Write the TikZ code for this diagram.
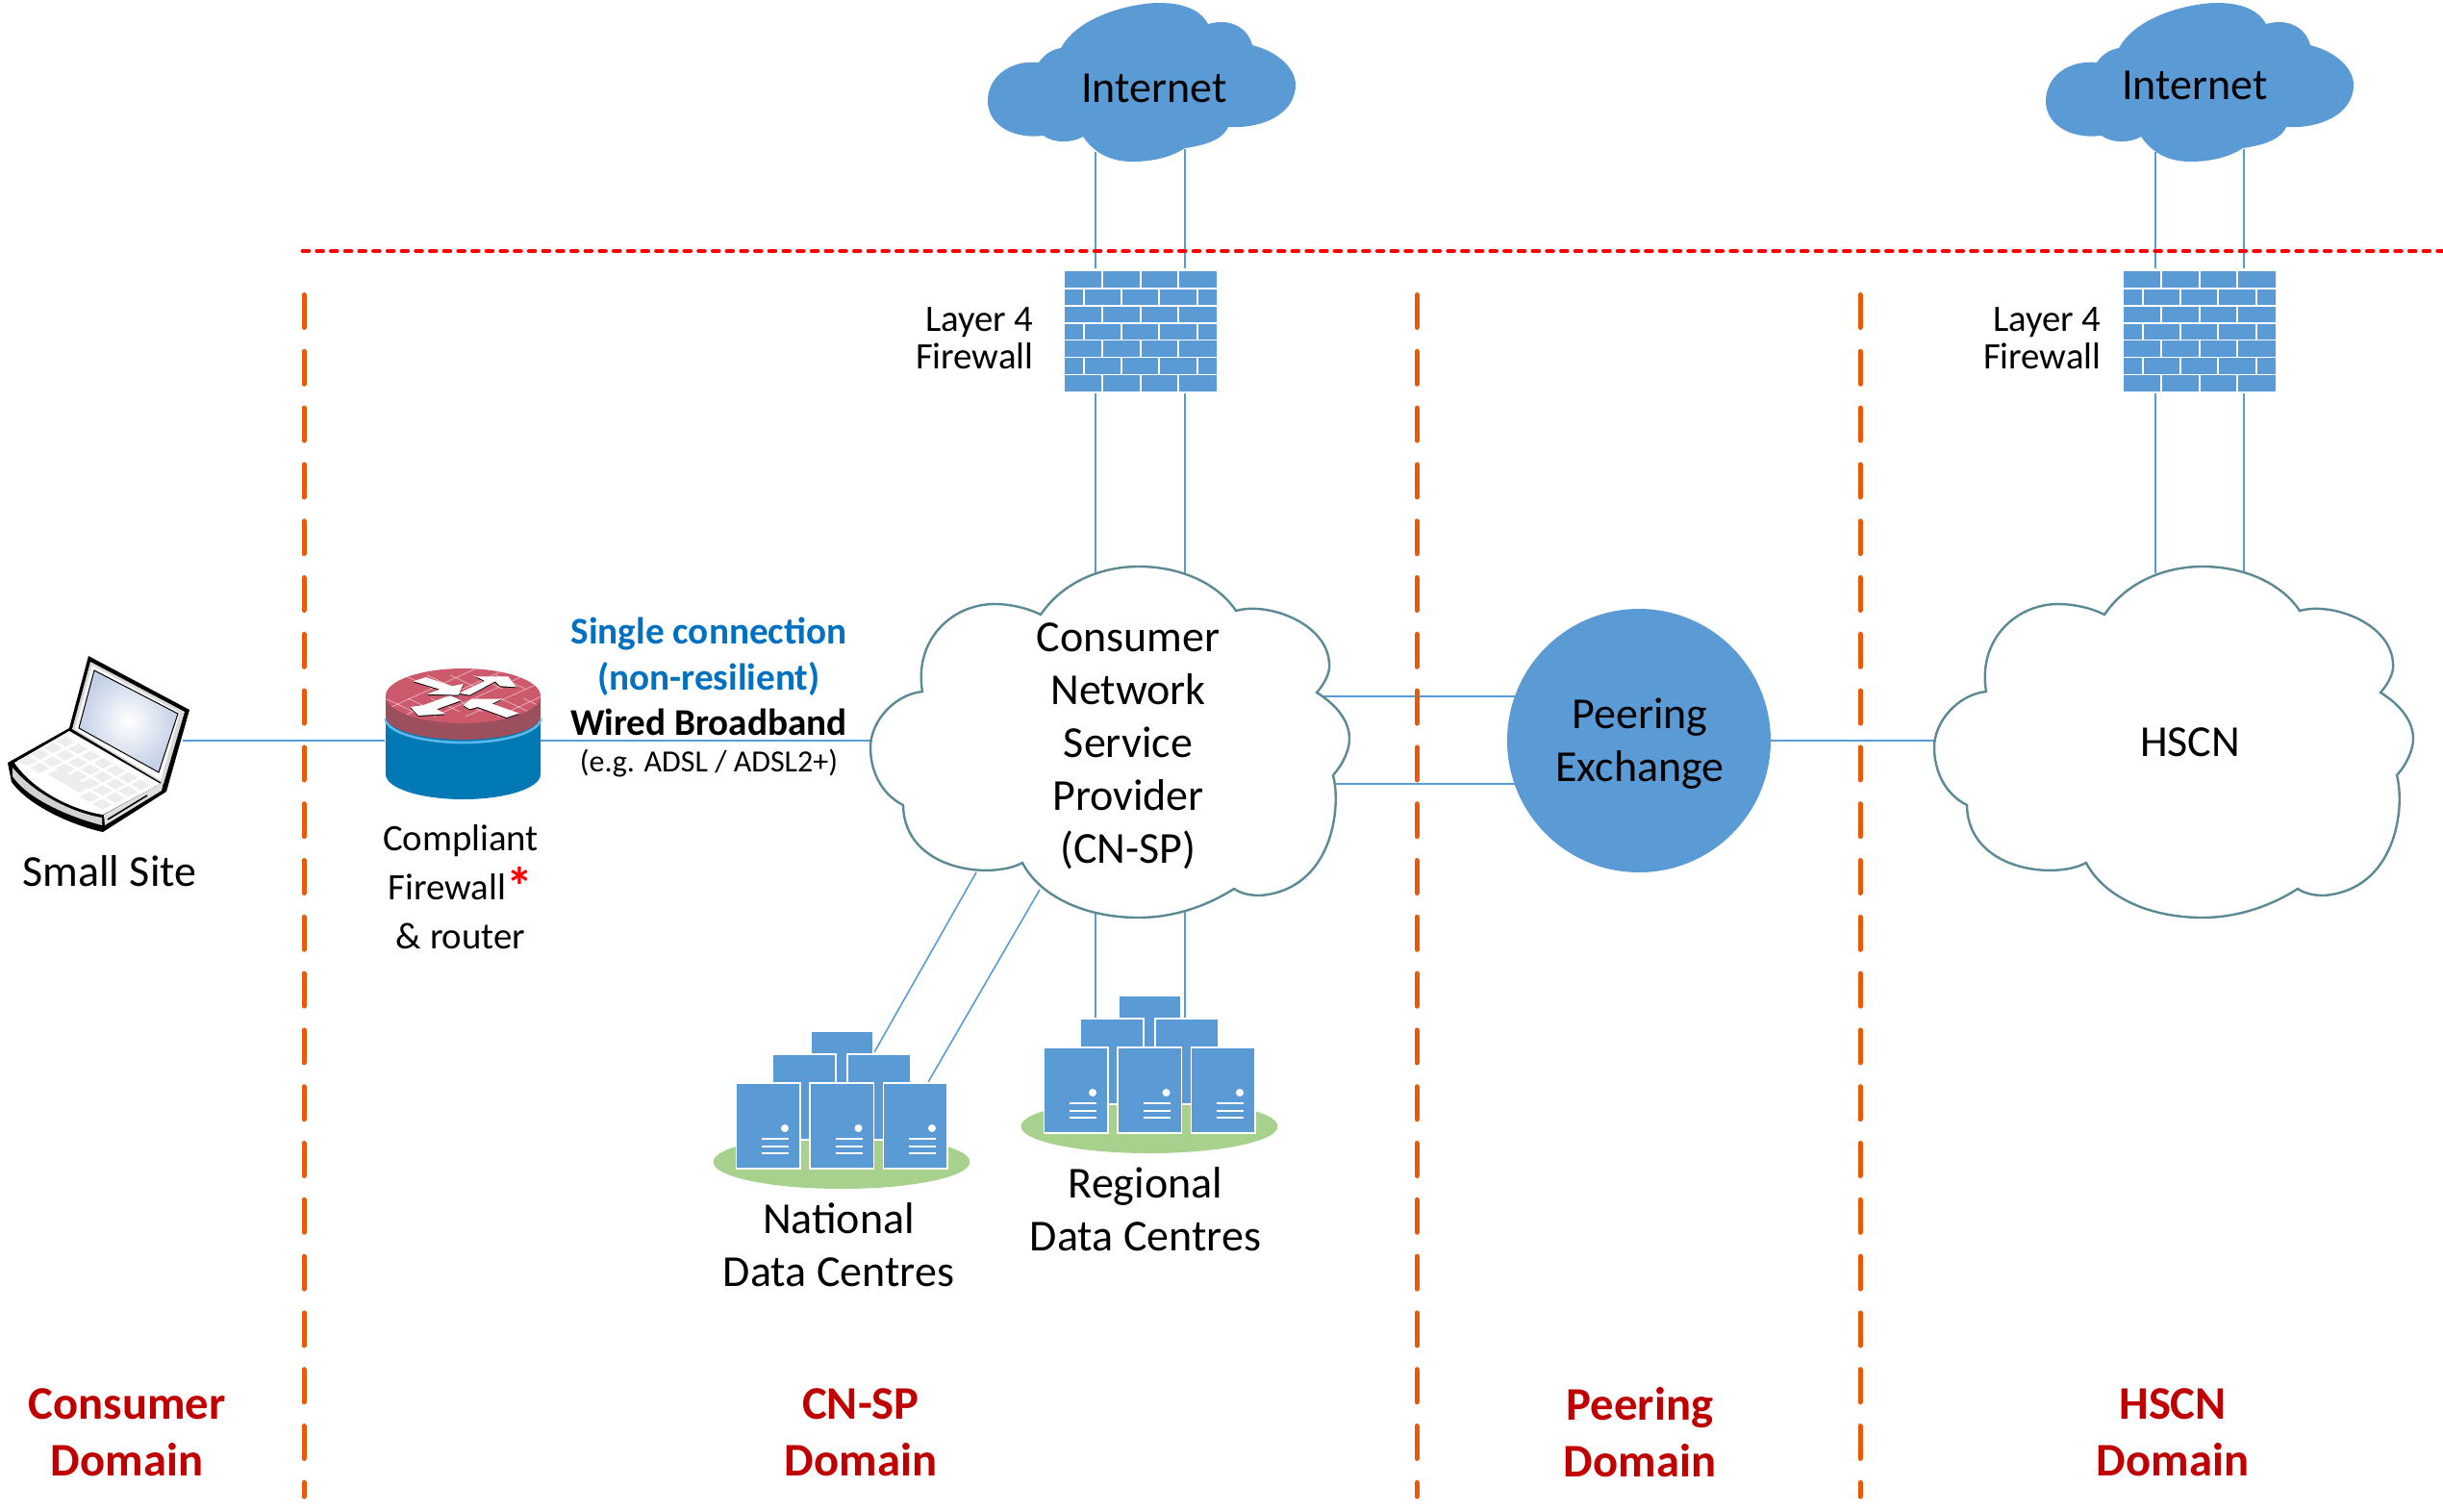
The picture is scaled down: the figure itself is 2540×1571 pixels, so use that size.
\documentclass[tikz,border=0pt]{standalone}
\usepackage{fontspec}
\setmainfont{Carlito}
\usetikzlibrary{positioning,shadings}

\definecolor{linkblue}{RGB}{91,155,213}
\definecolor{fillblue}{RGB}{91,155,213}
\definecolor{cloudline}{RGB}{92,138,148}
\definecolor{domainred}{RGB}{192,0,0}
\definecolor{splitorange}{RGB}{232,90,10}
\definecolor{padgreen}{RGB}{169,209,142}
\definecolor{headblue}{RGB}{0,112,192}
\definecolor{routertop}{RGB}{204,90,108}
\definecolor{routerband}{RGB}{156,79,92}
\definecolor{routerbody}{RGB}{0,121,181}
\definecolor{routerstripe}{RGB}{91,184,232}

\tikzset{
  link/.style={draw=linkblue,line width=0.8pt},
  bigtext/.style={align=center,inner sep=0pt,font=\fontsize{23}{27.5}\selectfont},
  midtext/.style={align=center,inner sep=0pt,font=\fontsize{19.4}{25.5}\selectfont},
  layertext/.style={align=right,inner sep=0pt,anchor=east,font=\fontsize{19.4}{19.5}\selectfont},
  domaintext/.style={align=center,inner sep=0pt,text=domainred,font=\bfseries\fontsize{24.3}{29.3}\selectfont},
  wiretext/.style={align=center,inner sep=0pt,font=\bfseries\fontsize{19.6}{20}\selectfont},
  domainsplit/.style={draw=splitorange,line width=2.5pt,line cap=round,dash pattern=on 17pt off 12.4pt},
  brickwall/.style={rectangle,fill=fillblue,minimum width=79pt,minimum height=62.5pt,inner sep=0pt},
  rack/.style={fill=fillblue,draw=white,line width=0.6pt},
}

% outline of the white clouds, in picture pixels
\newcommand{\lobecloud}{(1082,639) .. controls (1105,605) and (1145,589) .. (1184,589) .. controls (1225,589) and (1265,605) .. (1285,635) .. controls (1320,625) and (1385,650) .. (1382,695) .. controls (1381,703) and (1376,712) .. (1369,720) .. controls (1390,733) and (1403,750) .. (1403,768) .. controls (1403,780) and (1396,795) .. (1386,806) .. controls (1395,840) and (1385,925) .. (1310,931) .. controls (1300,931) and (1290,929) .. (1283,924) .. controls (1255,942) and (1220,954) .. (1184,954) .. controls (1125,954) and (1080,930) .. (1063,897) .. controls (1030,915) and (940,905) .. (939,837) .. controls (915,825) and (905,800) .. (905,777) .. controls (905,750) and (930,722) .. (959,719) .. controls (950,665) and (990,628) .. (1034,628) .. controls (1050,628) and (1068,632) .. (1082,639) -- cycle}

% outline of the blue clouds
\newcommand{\bluecloud}{(1080,65) .. controls (1086,56) and (1095,51) .. (1103,50) .. controls (1122,15) and (1180,3) .. (1205,3) .. controls (1230,3) and (1248,10) .. (1256,25) .. controls (1280,18) and (1298,30) .. (1302,47) .. controls (1330,54) and (1347,72) .. (1347,88) .. controls (1347,120) and (1310,134) .. (1277,132) .. controls (1270,148) and (1245,152) .. (1232,154) .. controls (1215,165) and (1195,168) .. (1177,168) .. controls (1150,168) and (1135,155) .. (1126,142) .. controls (1115,149) and (1095,149) .. (1085,141) .. controls (1050,145) and (1027,128) .. (1027,105) .. controls (1027,80) and (1050,62) .. (1080,65) -- cycle}

% brick lines of a firewall whose left top corner is at #1
\newcommand{\brickcourses}[1]{
\begin{scope}[shift={(#1)}]
\foreach \r in {1,...,6} \draw[white,line width=0.8pt] (0,17.9*\r) -- (158,17.9*\r);
\foreach \r in {0,2,4,6} \foreach \b in {39,79,118} \draw[white,line width=0.8pt] (\b,17.9*\r) -- (\b,17.9*\r+17.9);
\foreach \r in {1,3,5} \foreach \b in {20,59,98,138} \draw[white,line width=0.8pt] (\b,17.9*\r) -- (\b,17.9*\r+17.9);
\end{scope}}

% a group of servers on its green pad, #1 = shift from the national group
\newcommand{\serverpile}[1]{
\begin{scope}[shift={(#1)}]
\fill[padgreen] (875,1208) ellipse (133.5 and 28);
\draw[rack] (843,1072) rectangle (908,1130);
\draw[rack] (803,1096) rectangle (869,1185);
\draw[rack] (881,1096) rectangle (947,1185);
\foreach \s in {0,76.5,153} {
  \draw[rack] (765.5+\s,1126) rectangle (832+\s,1215);
  \fill[white] (816+\s,1173) circle (4);
  \foreach \l in {1184,1191.5,1199} \draw[white,line width=1pt] (792+\s,\l) -- (820+\s,\l);
}
\end{scope}}

% one white arrow on the router top, with its black edge
\newcommand{\routerarrow}[1]{
\fill[black,yshift=0.5pt] #1;
\fill[white] #1;}

\begin{document}
\begin{tikzpicture}[x=0.5pt,y=0.5pt,yscale=-1]
\useasboundingbox (0,0) rectangle (2540,1571);

%end points of the links
\coordinate (netoneL) at (1139,158);
\coordinate (netoneR) at (1232,155);
\coordinate (nettwoL) at (2241,158);
\coordinate (nettwoR) at (2333,155);
\coordinate (wallonetopL) at (1139,279);
\coordinate (wallonetopR) at (1232,279);
\coordinate (walltwotopL) at (2241,279);
\coordinate (walltwotopR) at (2333,279);
\coordinate (wallonebotL) at (1139,409);
\coordinate (wallonebotR) at (1232,409);
\coordinate (walltwobotL) at (2241,409);
\coordinate (walltwobotR) at (2333,409);
\coordinate (cnsptopL) at (1139,596);
\coordinate (cnsptopR) at (1232,596);
\coordinate (hscntopL) at (2241,596);
\coordinate (hscntopR) at (2333,596);
\coordinate (cnspbotL) at (1139,950);
\coordinate (cnspbotR) at (1232,945);
\coordinate (regionalL) at (1139,1058);
\coordinate (regionalR) at (1232,1058);
\coordinate (cnspnatA) at (1015,907);
\coordinate (cnspnatB) at (1081,925);
\coordinate (nationalA) at (909,1094);
\coordinate (nationalB) at (965,1125);
\coordinate (laptopport) at (190,770);
\coordinate (routerL) at (400,770);
\coordinate (routerR) at (562,770);
\coordinate (cnspL) at (906,770);
\coordinate (cnspupper) at (1370,724);
\coordinate (cnsplower) at (1388,815);
\coordinate (hscnL) at (2012,770);

%Peering node comes first so that the links can be laid under it
\path node[circle,minimum size=137pt,inner sep=0pt] (peering) at (1704,770) {};

%Links
\draw[link] (netoneL) -- (wallonetopL);
\draw[link] (netoneR) -- (wallonetopR);
\draw[link] (nettwoL) -- (walltwotopL);
\draw[link] (nettwoR) -- (walltwotopR);
\draw[link] (wallonebotL) -- (cnsptopL);
\draw[link] (wallonebotR) -- (cnsptopR);
\draw[link] (walltwobotL) -- (hscntopL);
\draw[link] (walltwobotR) -- (hscntopR);
\draw[link] (cnspbotL) -- (regionalL);
\draw[link] (cnspbotR) -- (regionalR);
\draw[link] (cnspnatA) -- (nationalA);
\draw[link] (cnspnatB) -- (nationalB);
\draw[link] (laptopport) -- (routerL);
\draw[link] (routerR) -- (cnspL);
\draw[link] (cnspupper) -- (cnspupper -| peering);
\draw[link] (cnsplower) -- (cnsplower -| peering);
\draw[link] (peering) -- (hscnL);

%Shape: blue clouds
\fill[fillblue] \bluecloud;
\begin{scope}[shift={(1100,0)}]
\fill[fillblue] \bluecloud;
\end{scope}

%Shape: white clouds
\draw[draw=cloudline,fill=white,line width=1.2pt] \lobecloud;
\begin{scope}[shift={(1106,0)}]
\draw[draw=cloudline,fill=white,line width=1.2pt] \lobecloud;
\end{scope}

%Shape: firewalls
\node[brickwall] (wallone) at (1186,344.5) {};
\brickcourses{1107,282}
\node[brickwall] (walltwo) at (2287,344.5) {};
\brickcourses{2208,282}

%Shape: peering circle
\fill[fillblue] (peering.center) circle (137);

%Shape: servers
\serverpile{0,0}
\serverpile{320,-37}

%Shape: router
\fill[routerbody] (401,745) -- (401,805) arc[start angle=180,end angle=0,x radius=80.5,y radius=26] -- (562,745) -- cycle;
\draw[routerstripe,line width=1.3pt] (401,747) arc[start angle=180,end angle=0,x radius=80.5,y radius=25];
\fill[routerband] (401,723) -- (401,745) arc[start angle=180,end angle=0,x radius=80.5,y radius=24] -- (562,723) -- cycle;
\fill[routertop] (481.5,723.5) ellipse (80.5 and 28.5);
\begin{scope}
\clip (481.5,723.5) ellipse (80.5 and 28.5);
\foreach \k in {0,1,2,3,4} \draw[white,opacity=0.5,line width=0.4pt] (385+33*\k,745) -- (495+33*\k,695);
\foreach \k in {0,1,2,3,4,5,6,7} \draw[white,opacity=0.5,line width=0.4pt] (420+24*\k,702) -- (450+24*\k,716);
\foreach \k in {0,1,2,3,4,5,6,7} \draw[white,opacity=0.5,line width=0.4pt] (400+24*\k,726) -- (430+24*\k,740);
\end{scope}
\routerarrow{(430,708.3) -- (442.7,704) -- (470,713.3) -- (481.7,711) -- (476.7,722.7) -- (444,721.7) -- (457.3,716.7) -- cycle}
\routerarrow{(477.3,720.7) -- (504,708) -- (495,703.3) -- (528.3,703.3) -- (536.7,714.3) -- (520,713.3) -- (515,708.3) -- (488.3,722.7) -- cycle}
\routerarrow{(426.7,735) -- (439.3,733.3) -- (468.3,723.3) -- (479.3,728.3) -- (454,737.3) -- (463.3,742.3) -- (435,744) -- cycle}
\routerarrow{(481.7,733.3) -- (490,726.7) -- (521.7,726.7) -- (511.7,731.7) -- (540,741.7) -- (526.7,746) -- (496.7,735) -- (488.3,737.3) -- cycle}

%Shape: laptop
\fill[black,line join=round] (8,793) -- (72,757) -- (92,682) -- (197,738) -- (173,823) -- (107,865) .. controls (75,858) and (30,838) .. (12,813) -- cycle;
\fill[gray!30] (94,688) -- (192,740) -- (170,815) -- (75,758) -- cycle;
\fill[white] (96,692) -- (187,741) -- (167,811) -- (78,758) -- cycle;
\shade[inner color=white,outer color={rgb,255:red,196;green,208;blue,230},draw=black,line width=0.5pt] (98,697) -- (185,742) -- (165,803) -- (82,757) -- cycle;
\fill[white] (15,793) -- (72,760) -- (167,815) -- (170,813) -- (107,847) .. controls (75,842) and (35,822) .. (15,793) -- cycle;
\fill[gray!35] (13,798) .. controls (35,825) and (75,845) .. (106,850) -- (106,858) .. controls (75,850) and (30,832) .. (13,807) -- cycle;
\fill[gray!25] (108,847) -- (170,813) -- (168,822) -- (109,858) -- cycle;
\draw[black,line width=0.8pt] (112,852) -- (153,827);
\foreach \i/\j in {0/0,1/0,2/0,3/0,4/0,5/0,6/0,0/1,1/1,2/1,3/1,4/1,5/1,6/1,0/2,1/2,2/2,3/2,4/2,5/2,6/2,0/3,1/3,5/3,6/3}
  \fill[gray!14] ({68.3+13*\i-13.3*\j},{765.5+7.5*\i+6.7*\j}) -- ++(10,5.8) -- ++(-10,5.2) -- ++(-10,-5.8) -- cycle;
\fill[gray!14] (50,805) -- (62,800) -- (94,818) -- (82,824) -- cycle;

%Domain splits
\draw[draw=red,line width=2.4pt,line cap=round,dash pattern=on 2.9pt off 4.45pt] (315,261) -- (2540,261);
\draw[domainsplit] (316,306.5) -- (316,1556);
\draw[domainsplit] (1473,306.5) -- (1473,1556);
\draw[domainsplit] (1934,306.5) -- (1934,1556);

% Text Node
\node[bigtext] (internetone) at (1200,92) {Internet};
\node[bigtext] (internettwo) at (2282,89) {Internet};
\node[layertext] (layerone) at (1075,352) {Layer 4\\Firewall};
\node[layertext] (layertwo) at (2185,352) {Layer 4\\Firewall};
\node[bigtext] (smallsite) at (114,906) {Small Site};
\node[midtext] (firewalltext) at (479,922) {Compliant\\Firewall\smash{\raisebox{-3pt}{\color{red}\bfseries\fontsize{28}{28}\selectfont *}}\\\& router};
\node[wiretext,text=headblue] (singletext) at (737,659) {Single connection};
\node[wiretext,text=headblue] (resilienttext) at (737,706) {(non-resilient)};
\node[wiretext] (wiredtext) at (737,751) {Wired Broadband};
\node[inner sep=0pt,font=\fontsize{16}{16}\selectfont] (adsltext) at (737,794) {(e.g. ADSL / ADSL2+)};
\node[bigtext] (cnsptext) at (1173,776) {Consumer\\Network\\Service\\Provider\\(CN-SP)};
\node[bigtext] (peeringtext) at (1705,773) {Peering\\Exchange};
\node[bigtext] (hscntext) at (2277,772) {HSCN};
\node[bigtext] (nationaltext) at (872,1294) {National\\Data Centres};
\node[bigtext] (regionaltext) at (1191,1257) {Regional\\Data Centres};
\node[domaintext] (consumerdomain) at (132,1489) {Consumer\\Domain};
\node[domaintext] (cnspdomain) at (895,1489) {CN-SP\\Domain};
\node[domaintext] (peeringdomain) at (1705,1489) {Peering\\Domain};
\node[domaintext] (hscndomain) at (2259,1489) {HSCN\\Domain};

\end{tikzpicture}
\end{document}
